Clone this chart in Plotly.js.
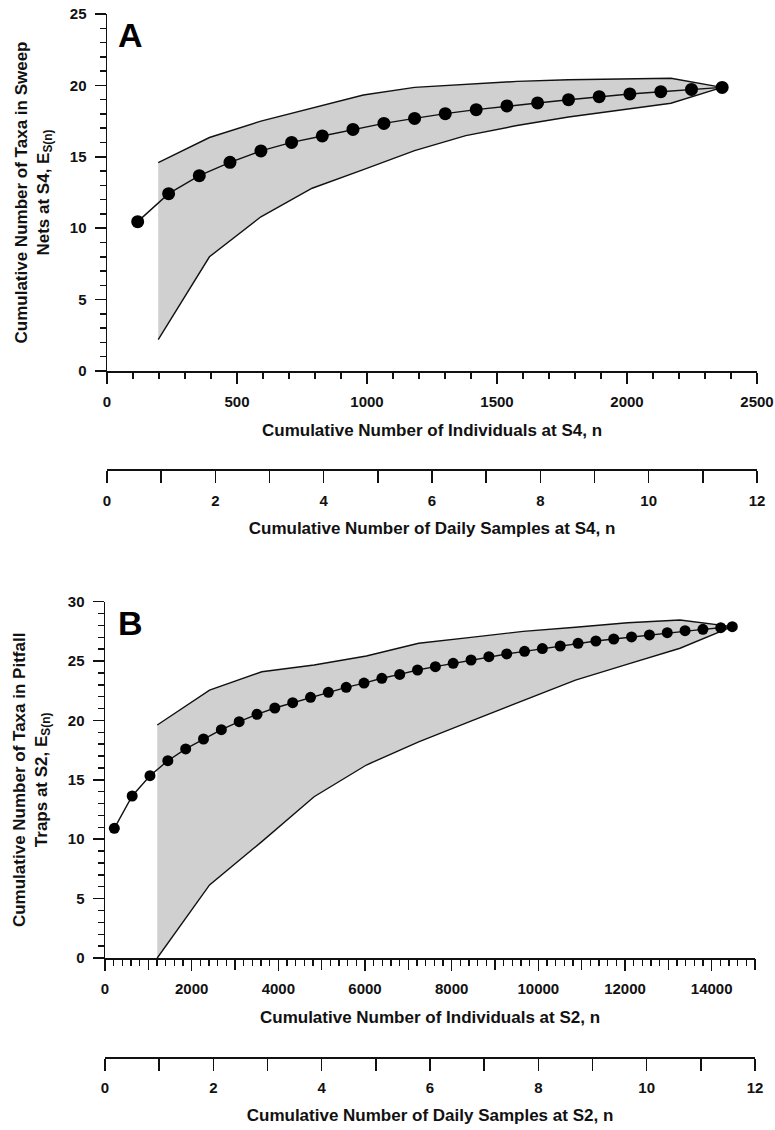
<!DOCTYPE html>
<html>
<head>
<meta charset="utf-8">
<script src="https://cdn.plot.ly/plotly-3.0.1.min.js"></script>
<style>html,body{margin:0;padding:0;background:#fff}#chart{width:775px;height:1130px}</style>
</head>
<body>
<div id="chart"></div>
<script>
// ---------- Panel A: sweep nets at S4 ----------
const nA = [118, 237, 355, 473, 592, 710, 828, 946, 1065, 1183, 1301, 1420, 1538, 1656, 1775, 1893, 2011, 2130, 2248, 2366];
const esA = [10.46, 12.42, 13.68, 14.61, 15.41, 16.01, 16.46, 16.92, 17.34, 17.69, 18.02, 18.30, 18.56, 18.77, 19.00, 19.21, 19.40, 19.56, 19.72, 19.86];
const bandNA = [197, 394, 592, 789, 986, 1183, 1380, 1577, 1775, 1972, 2169, 2366];
const upperA = [14.6, 16.35, 17.5, 18.4, 19.33, 19.86, 20.07, 20.28, 20.4, 20.47, 20.5, 19.86];
const lowerA = [2.2, 8.0, 10.8, 12.8, 14.1, 15.43, 16.48, 17.19, 17.79, 18.28, 18.75, 19.86];

// ---------- Panel B: pitfall traps at S2 ----------
const nB = [215, 627, 1038, 1450, 1862, 2273, 2685, 3096, 3508, 3919, 4331, 4743, 5154, 5566, 5977, 6389, 6801, 7212, 7624, 8035, 8447, 8859, 9270, 9682, 10093, 10505, 10917, 11328, 11740, 12151, 12563, 12975, 13386, 13798, 14209, 14476];
const esB = [10.92, 13.64, 15.35, 16.61, 17.60, 18.44, 19.22, 19.90, 20.52, 21.05, 21.50, 21.95, 22.37, 22.79, 23.15, 23.55, 23.88, 24.25, 24.53, 24.81, 25.09, 25.37, 25.60, 25.82, 26.05, 26.27, 26.50, 26.69, 26.86, 27.03, 27.20, 27.39, 27.56, 27.67, 27.81, 27.90];
const bandNB = [1206, 2413, 3619, 4825, 6032, 7238, 8444, 9651, 10857, 12063, 13270, 14476];
const upperB = [19.62, 22.56, 24.1, 24.67, 25.43, 26.5, 27.0, 27.5, 27.85, 28.23, 28.46, 27.9];
const lowerB = [0, 6.15, 9.8, 13.58, 16.25, 18.2, 19.94, 21.67, 23.4, 24.75, 26.08, 27.9];

// ---------- Tick labels ----------
const ticksA = [0, 500, 1000, 1500, 2000, 2500];
const ticksB = [0, 2000, 4000, 6000, 8000, 10000, 12000, 14000];
const ticksBText = ['0', '2000', '4000', '6000', '8000', '10000', '12000', '14000'];
const ticksBOddThousands = [1000, 3000, 5000, 7000, 9000, 11000, 13000, 15000];
const sampleTicks = [0, 2, 4, 6, 8, 10, 12];

const W = 775, H = 1130;
const FONT = 'Liberation Sans, Arial, Helvetica, sans-serif';
const BAND = 'rgb(208,208,208)';
const INK = '#111';

function band(xs, up, lo, xa, ya) {
  return {
    x: xs.concat(xs.slice().reverse()),
    y: up.concat(lo.slice().reverse()),
    xaxis: xa, yaxis: ya, mode: 'lines', fill: 'toself',
    fillcolor: BAND, line: {width: 0}, hoverinfo: 'skip', showlegend: false
  };
}
function edge(xs, ys, xa, ya) {
  return {x: xs, y: ys, xaxis: xa, yaxis: ya, mode: 'lines',
    line: {color: INK, width: 1.4}, hoverinfo: 'skip', showlegend: false};
}
function pts(xs, ys, xa, ya, size) {
  return {x: xs, y: ys, xaxis: xa, yaxis: ya, mode: 'lines+markers',
    line: {color: INK, width: 1.4}, marker: {color: '#000', size: size},
    showlegend: false, cliponaxis: false};
}
function dummy(xa, ya, xr) {
  return {x: xr, y: [null, null], xaxis: xa, yaxis: ya, mode: 'markers', showlegend: false, hoverinfo: 'skip'};
}

const traces = [
  band(bandNA, upperA, lowerA, 'x', 'y'),
  edge(bandNA, upperA, 'x', 'y'),
  edge(bandNA, lowerA, 'x', 'y'),
  pts(nA, esA, 'x', 'y', 13),
  band(bandNB, upperB, lowerB, 'x2', 'y2'),
  edge(bandNB, upperB, 'x2', 'y2'),
  edge(bandNB, lowerB, 'x2', 'y2'),
  pts(nB, esB, 'x2', 'y2', 11),
  dummy('x3', 'y', [0, 12]),
  dummy('x4', 'y2', [0, 12]),
  dummy('x5', 'y2', [0, 15000])
];

const tickFont = {family: FONT, size: 15, color: INK, weight: 'bold'};
const titleFont = {family: FONT, size: 17, color: INK, weight: 'bold'};
const axBase = {
  showline: true, linecolor: INK, linewidth: 1.5, showgrid: false, zeroline: false,
  ticks: 'outside', tickcolor: INK, tickwidth: 1.5, ticklen: 11,
  tickfont: tickFont, fixedrange: true, exponentformat: 'none'
};
const minorTicks = (d, len) => ({dtick: d, ticks: 'outside', ticklen: len, tickcolor: INK, tickwidth: 1.5, showgrid: false});
const dom = (a, b) => [a / W, b / W];
const ydom = (bot, top) => [1 - bot / H, 1 - top / H];

const layout = {
  width: W, height: H,
  margin: {l: 0, r: 0, t: 0, b: 0},
  paper_bgcolor: '#fff', plot_bgcolor: 'rgba(0,0,0,0)',
  showlegend: false,
  font: {family: FONT, color: INK},
  xaxis: Object.assign({}, axBase, {
    domain: dom(107, 757), range: [0, 2500], anchor: 'y',
    tickvals: ticksA, ticklabelstandoff: 5,
    minor: minorTicks(100, 6),
    title: {text: 'Cumulative Number of Individuals at S4, n', font: titleFont, standoff: 15}
  }),
  yaxis: Object.assign({}, axBase, {
    domain: ydom(371, 14), range: [0, 25], anchor: 'x',
    dtick: 5, ticklabelstandoff: 5,
    minor: minorTicks(1, 6),
    title: {text: 'Cumulative Number of Taxa in Sweep<br>Nets at S4, E<sub>S(n)</sub>', font: titleFont, standoff: 16}
  }),
  xaxis3: Object.assign({}, axBase, {
    overlaying: 'x', anchor: 'free', position: 1 - 469 / H, side: 'bottom',
    range: [0, 12], tickvals: sampleTicks, ticklen: 12,
    minor: minorTicks(1, 12),
    ticklabelstandoff: 5,
    title: {text: 'Cumulative Number of Daily Samples at S4, n', font: titleFont, standoff: 14}
  }),
  xaxis2: Object.assign({}, axBase, {
    domain: dom(105, 755), range: [0, 15000], anchor: 'y2',
    tickvals: ticksB, ticktext: ticksBText, ticklabelstandoff: 5,
    minor: minorTicks(200, 6),
    title: {text: 'Cumulative Number of Individuals at S2, n', font: titleFont, standoff: 15}
  }),
  xaxis5: {
    overlaying: 'x2', anchor: 'y2', side: 'bottom', range: [0, 15000],
    showline: false, showgrid: false, zeroline: false, showticklabels: false,
    ticks: 'outside', tickvals: ticksBOddThousands, ticklen: 11, tickcolor: INK, tickwidth: 1.5,
    fixedrange: true
  },
  yaxis2: Object.assign({}, axBase, {
    domain: ydom(958, 601.7), range: [0, 30], anchor: 'x2',
    dtick: 5, ticklabelstandoff: 5,
    minor: minorTicks(1, 6),
    title: {text: 'Cumulative Number of Taxa in Pitfall<br>Traps at S2, E<sub>S(n)</sub>', font: titleFont, standoff: 16}
  }),
  xaxis4: Object.assign({}, axBase, {
    overlaying: 'x2', anchor: 'free', position: 1 - 1057 / H, side: 'bottom',
    range: [0, 12], tickvals: sampleTicks, ticklen: 12,
    minor: minorTicks(1, 12),
    ticklabelstandoff: 4,
    title: {text: 'Cumulative Number of Daily Samples at S2, n', font: titleFont, standoff: 14}
  }),
  annotations: [
    {text: 'A', xref: 'paper', yref: 'paper', x: 116 / W, y: 1 - 14 / H, xanchor: 'left', yanchor: 'top',
     showarrow: false, font: {family: FONT, size: 34, color: '#000', weight: 'bold'}},
    {text: 'B', xref: 'paper', yref: 'paper', x: 116 / W, y: 1 - 602 / H, xanchor: 'left', yanchor: 'top',
     showarrow: false, font: {family: FONT, size: 34, color: '#000', weight: 'bold'}}
  ]
};

Plotly.newPlot('chart', traces, layout, {staticPlot: true, displayModeBar: false});
</script>
</body>
</html>
